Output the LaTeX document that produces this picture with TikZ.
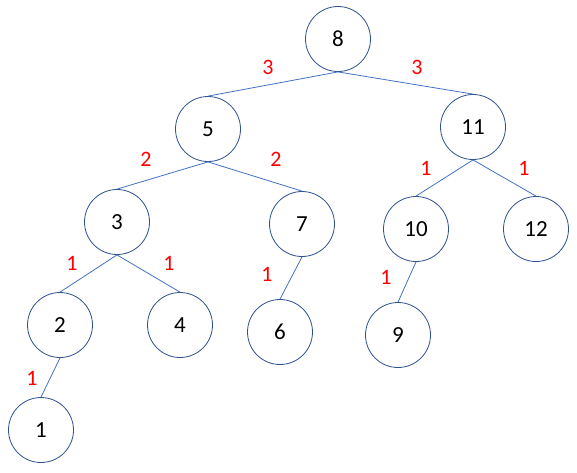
\documentclass[tikz,border=0pt]{standalone}
\usepackage{fontspec}
\setmainfont{Carlito}
\definecolor{ringc}{HTML}{2F528F}
\definecolor{edgec}{HTML}{4472C4}
\definecolor{wred}{HTML}{FF0000}
\tikzset{
  treenode/.style={circle, draw=ringc, line width=0.8pt, minimum size=65pt, inner sep=0pt, font=\fontsize{23}{26}\selectfont},
  treeedge/.style={draw=edgec, line width=0.8pt},
  weightlbl/.style={text=wred, font=\fontsize{22}{25}\selectfont, inner sep=0pt}
}
\begin{document}
\begin{tikzpicture}[x=1pt,y=-1pt]
\useasboundingbox[fill=white] (0,0) rectangle (577,472);
\node[treenode] (n8) at (338,39) {8};
\node[treenode] (n5) at (208,129) {5};
\node[treenode] (n11) at (473,127) {11};
\node[treenode] (n3) at (117,222) {3};
\node[treenode] (n7) at (302,224) {7};
\node[treenode] (n10) at (416,229) {10};
\node[treenode] (n12) at (536,229) {12};
\node[treenode] (n2) at (60,325) {2};
\node[treenode] (n4) at (180,325) {4};
\node[treenode] (n6) at (280,332) {6};
\node[treenode] (n9) at (398,335) {9};
\node[treenode] (n1) at (41,430) {1};
\draw[treeedge] (n8.south) -- (n5.north);
\draw[treeedge] (n8.south) -- (n11.north);
\draw[treeedge] (n5.south) -- (n3.north);
\draw[treeedge] (n5.south) -- (n7.north);
\draw[treeedge] (n11.south) -- (n10.north);
\draw[treeedge] (n11.south) -- (n12.north);
\draw[treeedge] (n3.south) -- (n2.north);
\draw[treeedge] (n3.south) -- (n4.north);
\draw[treeedge] (n7.south) -- (n6.north);
\draw[treeedge] (n10.south) -- (n9.north);
\draw[treeedge] (n2.south) -- (n1.north);
\node[weightlbl] (w85) at (268,67) {3};
\node[weightlbl] (w811) at (417,67) {3};
\node[weightlbl] (w53) at (146,159) {2};
\node[weightlbl] (w57) at (276,159) {2};
\node[weightlbl] (w1110) at (426,168) {1};
\node[weightlbl] (w1112) at (524,168) {1};
\node[weightlbl] (w32) at (72,263) {1};
\node[weightlbl] (w34) at (169,263) {1};
\node[weightlbl] (w76) at (267,274) {1};
\node[weightlbl] (w109) at (386,277) {1};
\node[weightlbl] (w21) at (32,378) {1};
\end{tikzpicture}
\end{document}
